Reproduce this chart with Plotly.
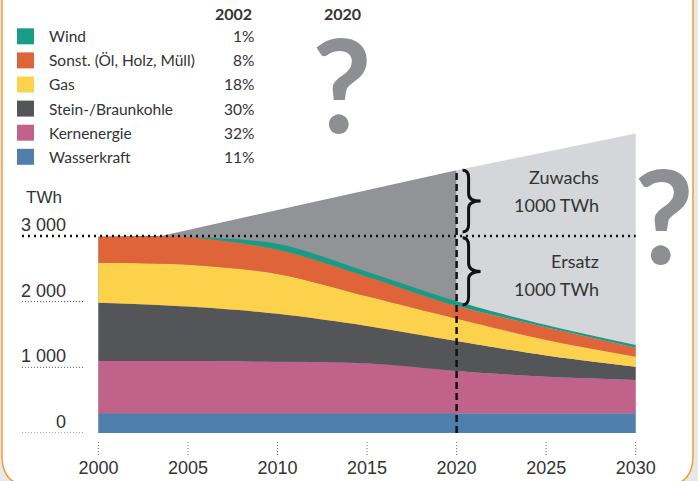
import plotly.graph_objects as go

# ---------------- data ----------------
years = [2000, 2005, 2010, 2015, 2020, 2025, 2030]
wasserkraft = [300, 300, 300, 300, 300, 300, 300]
kernenergie = [795, 795, 785, 760, 645, 555, 507]
kohle = [888, 830, 730, 570, 455, 325, 203]
gas = [607, 635, 605, 450, 340, 236, 152]
sonst = [400, 420, 370, 300, 195, 193, 137]
wind = [0, 5, 90, 75, 70, 35, 40]

# demand envelope (grey areas)
env_years_past = [2000, 2003.5, 2020]
env_past = [2980, 3000, 4000]
env_years_future = [2020, 2030]
env_future = [4000, 4560]

legend_names = ["Wind", "Sonst. (Öl, Holz, Müll)", "Gas", "Stein-/Braunkohle",
                "Kernenergie", "Wasserkraft"]
shares_2002 = ["1%", "8%", "18%", "30%", "32%", "11%"]
legend_colors = ["#179c86", "#e0643a", "#fcd24c", "#545559", "#c1628a", "#4f80ad"]

x_ticks = [2000, 2005, 2010, 2015, 2020, 2025, 2030]
y_ticks = [0, 1000, 2000, 3000]
y_ticklabels = ["0", "1 000", "2 000", "3 000"]

# ---------------- geometry ----------------
W, H = 698, 481
ML, MR, MT, MB = 22, 58, 0, 48
PW, PH = W - ML - MR, H - MT - MB
PX_PER_YEAR = 17.91
X0 = 2000 - (98.4 - ML) / PX_PER_YEAR
X1 = X0 + PW / PX_PER_YEAR
Y1 = PH / 0.0657


def px(xp):
    return (xp - ML) / PW


def py(yp):
    return (H - MB - yp) / PH


def yr(xp):
    return X0 + (xp - ML) / PX_PER_YEAR


fig = go.Figure()

fig.add_trace(go.Scatter(x=env_years_past, y=env_past, mode="lines", fill="tozeroy",
                         fillcolor="#929397", line=dict(width=0), showlegend=False,
                         hoverinfo="skip"))
fig.add_trace(go.Scatter(x=env_years_future, y=env_future, mode="lines", fill="tozeroy",
                         fillcolor="#d4d6d9", line=dict(width=0), showlegend=False,
                         hoverinfo="skip"))

stack = [("Wasserkraft", wasserkraft, legend_colors[5]),
         ("Kernenergie", kernenergie, legend_colors[4]),
         ("Stein-/Braunkohle", kohle, legend_colors[3]),
         ("Gas", gas, legend_colors[2]),
         ("Sonst. (Öl, Holz, Müll)", sonst, legend_colors[1]),
         ("Wind", wind, legend_colors[0])]
for name, vals, col in stack:
    fig.add_trace(go.Scatter(x=years, y=vals, name=name, stackgroup="s", mode="lines",
                             line=dict(width=0, shape="spline", smoothing=0.9),
                             fillcolor=col, showlegend=False))

shapes = []
ann = []

# rounded frame
L, R, T, B, r = 2, 693, -5, 486, 30
path = (f"M {px(L)},{py(T)} L {px(L)},{py(B - r)} Q {px(L)},{py(B)} {px(L + r)},{py(B)} "
        f"L {px(R - r)},{py(B)} Q {px(R)},{py(B)} {px(R)},{py(B - r)} L {px(R)},{py(T)} Z")
shapes.append(dict(type="path", xref="paper", yref="paper", path=path, fillcolor="white",
                   line=dict(color="#f39a2e", width=1.5), layer="below"))

# y gridlines (dotted stubs) and labels
for v, lab in zip(y_ticks, y_ticklabels):
    if v == 3000:
        shapes.append(dict(type="line", xref="x", yref="y", x0=X0, x1=2030, y0=v, y1=v,
                           line=dict(color="#111", width=2.5, dash="2px,4px")))
    else:
        shapes.append(dict(type="line", xref="x", yref="y", x0=X0, x1=yr(84), y0=v, y1=v,
                           line=dict(color="#555", width=1, dash="1px,2px")))
    ann.append(dict(x=px(68), y=py(433 - v * 0.0657 - 11), xref="paper", yref="paper",
                    text=lab, showarrow=False, xanchor="right", yanchor="middle",
                    font=dict(family="Liberation Sans", size=18, color="#333")))

ann.append(dict(x=px(24), y=py(197), xref="paper", yref="paper", text="TWh",
                showarrow=False, xanchor="left", yanchor="middle",
                font=dict(family="Liberation Sans", size=17, color="#333")))

# x tick marks
for t in x_ticks:
    shapes.append(dict(type="line", xref="x", yref="paper", x0=t, x1=t, y0=py(442), y1=py(455),
                       line=dict(color="#666", width=1, dash="1px,2px")))

# dashed 2020 line
shapes.append(dict(type="line", xref="x", yref="y", x0=2020, x1=2020, y0=0, y1=4000,
                   line=dict(color="#111", width=2.5, dash="7px,4px")))


# braces
def brace(y_bot, y_top):
    xl = 2020 + 6 / PX_PER_YEAR
    xm = 2020 + 12 / PX_PER_YEAR
    xr = 2020 + 24 / PX_PER_YEAR
    ym = (y_bot + y_top) / 2
    d = (y_top - y_bot) * 0.12
    return (f"M {xl},{y_top} Q {xm},{y_top} {xm},{y_top - d} L {xm},{ym + d} "
            f"Q {xm},{ym} {xr},{ym} Q {xm},{ym} {xm},{ym - d} L {xm},{y_bot + d} "
            f"Q {xm},{y_bot} {xl},{y_bot}")


for yb, yt in [(3060, 4000), (1950, 2970)]:
    shapes.append(dict(type="path", xref="x", yref="y", path=brace(yb, yt),
                       line=dict(color="#111", width=3)))

txt_font = dict(family="Lato", size=18, color="#333")
for text, yp in [("Zuwachs", 177), ("1000 TWh", 205), ("Ersatz", 261), ("1000 TWh", 289)]:
    ann.append(dict(x=px(601), y=py(yp), xref="paper", yref="paper", text=text,
                    showarrow=False, xanchor="right", yanchor="middle", font=txt_font))

# question marks
for xc, yc in [(342, 83), (664, 214)]:
    ann.append(dict(x=px(xc), y=py(yc), xref="paper", yref="paper", text="?",
                    showarrow=False, xanchor="center", yanchor="middle", height=112,
                    valign="middle",
                    font=dict(family="Lato", size=130, color="#8e8f93", weight="bold")))

# legend block
ann.append(dict(x=px(233), y=py(13), xref="paper", yref="paper", text="<b>2002</b>",
                showarrow=False, xanchor="center", yanchor="middle",
                font=dict(family="Lato", size=16, color="#333")))
ann.append(dict(x=px(342), y=py(13), xref="paper", yref="paper", text="<b>2020</b>",
                showarrow=False, xanchor="center", yanchor="middle",
                font=dict(family="Lato", size=16, color="#333")))
for i, (name, share, col) in enumerate(zip(legend_names, shares_2002, legend_colors)):
    yc = 36.3 + i * 24.1
    shapes.append(dict(type="rect", xref="paper", yref="paper", x0=px(17), x1=px(34),
                       y0=py(yc + 8), y1=py(yc - 8), fillcolor=col, line=dict(width=0)))
    ann.append(dict(x=px(47), y=py(yc), xref="paper", yref="paper", text=name,
                    showarrow=False, xanchor="left", yanchor="middle",
                    font=dict(family="Lato", size=15.5, color="#333")))
    ann.append(dict(x=px(256), y=py(yc), xref="paper", yref="paper", text=share,
                    showarrow=False, xanchor="right", yanchor="middle",
                    font=dict(family="Lato", size=15.5, color="#333")))

fig.update_layout(
    width=W, height=H,
    margin=dict(l=ML, r=MR, t=MT, b=MB),
    paper_bgcolor="#e8e8e8",
    plot_bgcolor="rgba(0,0,0,0)",
    showlegend=False,
    shapes=shapes,
    annotations=ann,
    xaxis=dict(range=[X0, X1], tickvals=x_ticks, ticktext=[str(t) for t in x_ticks],
               showgrid=False, zeroline=False, showline=False, ticks="outside",
               ticklen=18, tickcolor="rgba(0,0,0,0)",
               tickfont=dict(family="Liberation Sans", size=18, color="#333"), fixedrange=True),
    yaxis=dict(range=[0, Y1], showgrid=False, zeroline=False, showline=False,
               showticklabels=False, fixedrange=True),
)

fig.write_html("out.html", config={"displayModeBar": False},
               post_script="document.body.style.margin='0';document.body.style.overflow='hidden';")
